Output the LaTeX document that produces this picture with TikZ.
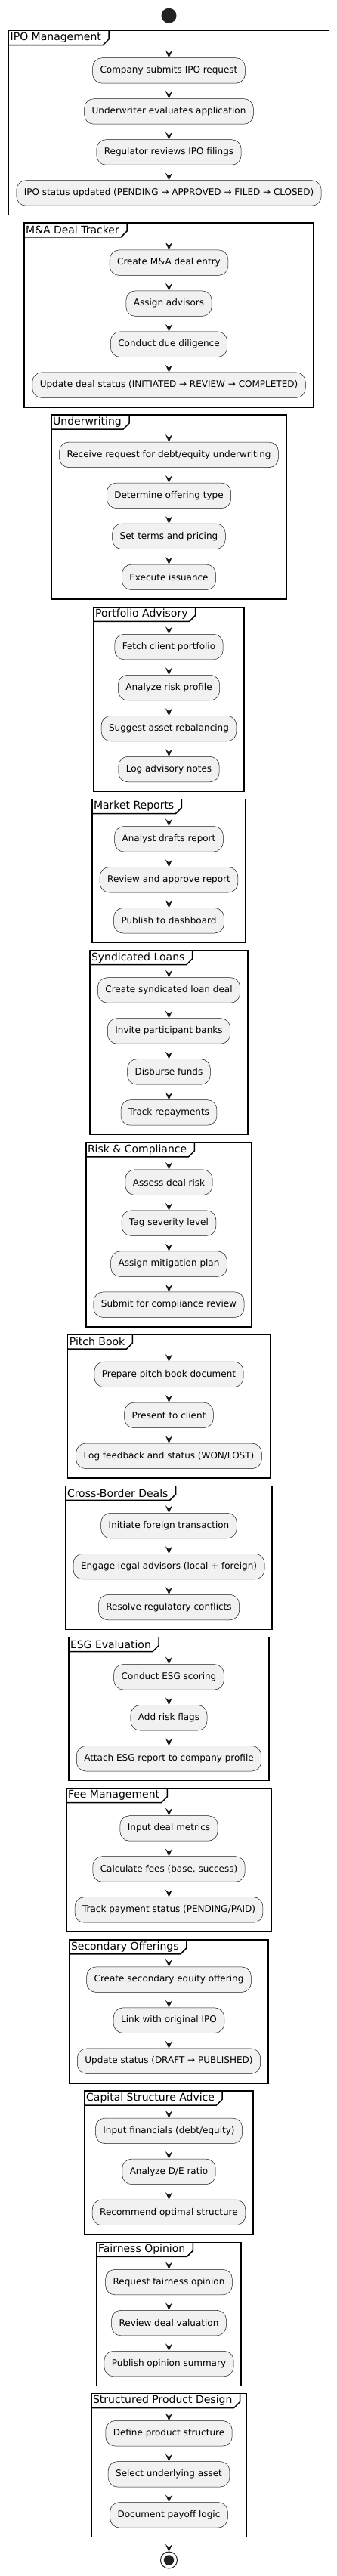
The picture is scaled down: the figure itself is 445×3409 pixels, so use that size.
\documentclass[tikz,border=0pt]{standalone}
\usepackage{fontspec}
\usepackage{xcolor}
\usepackage{tikz}
\usetikzlibrary{positioning}
\usetikzlibrary{calc}
\usetikzlibrary{arrows.meta}
\setmainfont{DejaVu Sans}
\definecolor{boxfill}{HTML}{F1F1F1}
\definecolor{boxline}{HTML}{181818}
\definecolor{dotfill}{HTML}{222222}
\tikzstyle{activity} = [draw=boxline, fill=boxfill, line width=0.5pt,
rectangle, rounded corners=12.5pt, minimum height=33.5pt, inner xsep=10pt,
inner ysep=0pt, outer sep=0pt, font=\fontsize{12}{14}\selectfont]
\tikzstyle{groupframe} = [draw=black, line width=1.5pt]
\tikzstyle{grouptitle} = [anchor=north west, inner xsep=2pt, inner ysep=0pt,
minimum height=18.6pt, font=\fontsize{14}{16}\selectfont]
\tikzstyle{flow} = [draw=boxline, line width=1pt,
-{Stealth[length=10pt,width=9pt,inset=4pt]}]
\tikzstyle{startdot} = [circle, fill=dotfill, minimum size=20pt, inner sep=0pt,
outer sep=0pt]
\tikzstyle{stopdot} = [circle, draw=dotfill, fill=white, line width=1pt,
minimum size=22pt, inner sep=0pt, outer sep=0pt,
path picture={\fill[dotfill] (path picture bounding box.center) circle (6.7pt);}]
% frame with title tab: title, first box, last box, half width
\newcommand{\dealframe}[4]{%
  \draw[groupframe] ($(#2.north)+(-#4pt,36pt)$) coordinate (#2-tl)
    rectangle ($(#3.south)+(#4pt,-12.5pt)$);
  \node[grouptitle] (#2-title) at (#2-tl) {#1};
  \draw[groupframe] (#2-title.south west) -- (#2-title.south east)
    -- ([shift={(8pt,8pt)}]#2-title.south east) -- ([xshift=8pt]#2-title.north east);
}

\begin{document}
\begin{tikzpicture}[node distance=20.5pt]
    \useasboundingbox (0,0) rectangle (445pt,-3409pt);
    \node[startdot] (start) at (223.5pt,-20.7pt) {};

    % IPO Management
    \node[activity, below=46pt of start] (ipo1) {Company submits IPO request};
    \node[activity, below=of ipo1] (ipo2) {Underwriter evaluates application};
    \node[activity, below=of ipo2] (ipo3) {Regulator reviews IPO filings};
    \node[activity, below=of ipo3] (ipo4) {IPO status updated (PENDING → APPROVED → FILED → CLOSED)};

    % M&A Deal Tracker
    \node[activity, below=58.7pt of ipo4] (ma1) {Create M\&A deal entry};
    \node[activity, below=of ma1] (ma2) {Assign advisors};
    \node[activity, below=of ma2] (ma3) {Conduct due diligence};
    \node[activity, below=of ma3] (ma4) {Update deal status (INITIATED → REVIEW → COMPLETED)};

    % Underwriting
    \node[activity, below=58.7pt of ma4] (uw1) {Receive request for debt/equity underwriting};
    \node[activity, below=of uw1] (uw2) {Determine offering type};
    \node[activity, below=of uw2] (uw3) {Set terms and pricing};
    \node[activity, below=of uw3] (uw4) {Execute issuance};

    % Portfolio Advisory
    \node[activity, below=58.7pt of uw4] (pa1) {Fetch client portfolio};
    \node[activity, below=of pa1] (pa2) {Analyze risk profile};
    \node[activity, below=of pa2] (pa3) {Suggest asset rebalancing};
    \node[activity, below=of pa3] (pa4) {Log advisory notes};

    % Market Reports
    \node[activity, below=58.7pt of pa4] (mr1) {Analyst drafts report};
    \node[activity, below=of mr1] (mr2) {Review and approve report};
    \node[activity, below=of mr2] (mr3) {Publish to dashboard};

    % Syndicated Loans
    \node[activity, below=58.7pt of mr3] (sl1) {Create syndicated loan deal};
    \node[activity, below=of sl1] (sl2) {Invite participant banks};
    \node[activity, below=of sl2] (sl3) {Disburse funds};
    \node[activity, below=of sl3] (sl4) {Track repayments};

    % Risk & Compliance
    \node[activity, below=58.7pt of sl4] (rc1) {Assess deal risk};
    \node[activity, below=of rc1] (rc2) {Tag severity level};
    \node[activity, below=of rc2] (rc3) {Assign mitigation plan};
    \node[activity, below=of rc3] (rc4) {Submit for compliance review};

    % Pitch Book
    \node[activity, below=58.7pt of rc4] (pb1) {Prepare pitch book document};
    \node[activity, below=of pb1] (pb2) {Present to client};
    \node[activity, below=of pb2] (pb3) {Log feedback and status (WON/LOST)};

    % Cross-Border Deals
    \node[activity, below=58.7pt of pb3] (cb1) {Initiate foreign transaction};
    \node[activity, below=of cb1] (cb2) {Engage legal advisors (local + foreign)};
    \node[activity, below=of cb2] (cb3) {Resolve regulatory conflicts};

    % ESG Evaluation
    \node[activity, below=58.7pt of cb3] (esg1) {Conduct ESG scoring};
    \node[activity, below=of esg1] (esg2) {Add risk flags};
    \node[activity, below=of esg2] (esg3) {Attach ESG report to company profile};

    % Fee Management
    \node[activity, below=58.7pt of esg3] (fee1) {Input deal metrics};
    \node[activity, below=of fee1] (fee2) {Calculate fees (base, success)};
    \node[activity, below=of fee2] (fee3) {Track payment status (PENDING/PAID)};

    % Secondary Offerings
    \node[activity, below=58.7pt of fee3] (so1) {Create secondary equity offering};
    \node[activity, below=of so1] (so2) {Link with original IPO};
    \node[activity, below=of so2] (so3) {Update status (DRAFT → PUBLISHED)};

    % Capital Structure Advice
    \node[activity, below=58.7pt of so3] (csa1) {Input financials (debt/equity)};
    \node[activity, below=of csa1] (csa2) {Analyze D/E ratio};
    \node[activity, below=of csa2] (csa3) {Recommend optimal structure};

    % Fairness Opinion
    \node[activity, below=58.7pt of csa3] (fo1) {Request fairness opinion};
    \node[activity, below=of fo1] (fo2) {Review deal valuation};
    \node[activity, below=of fo2] (fo3) {Publish opinion summary};

    % Structured Product Design
    \node[activity, below=58.7pt of fo3] (spd1) {Define product structure};
    \node[activity, below=of spd1] (spd2) {Select underlying asset};
    \node[activity, below=of spd2] (spd3) {Document payoff logic};

    \node[stopdot, below=32pt of spd3] (stop) {};

    % frames
    \dealframe{IPO Management}{ipo1}{ipo4}{212}
    \dealframe{M\&A Deal Tracker}{ma1}{ma4}{191.7}
    \dealframe{Underwriting}{uw1}{uw4}{155.5}
    \dealframe{Portfolio Advisory}{pa1}{pa4}{99.5}
    \dealframe{Market Reports}{mr1}{mr3}{101.7}
    \dealframe{Syndicated Loans}{sl1}{sl4}{104.7}
    \dealframe{Risk \& Compliance}{rc1}{rc4}{109.7}
    \dealframe{Pitch Book}{pb1}{pb3}{133.8}
    \dealframe{Cross-Border Deals}{cb1}{cb3}{136.7}
    \dealframe{ESG Evaluation}{esg1}{esg3}{132.7}
    \dealframe{Fee Management}{fee1}{fee3}{135.7}
    \dealframe{Secondary Offerings}{so1}{so3}{131.7}
    \dealframe{Capital Structure Advice}{csa1}{csa3}{111.5}
    \dealframe{Fairness Opinion}{fo1}{fo3}{95.7}
    \dealframe{Structured Product Design}{spd1}{spd3}{102.7}

    % arrows
    \foreach \n [remember=\n as \p (initially start)] in {ipo1,ipo2,ipo3,ipo4,
      ma1,ma2,ma3,ma4,uw1,uw2,uw3,uw4,pa1,pa2,pa3,pa4,mr1,mr2,mr3,
      sl1,sl2,sl3,sl4,rc1,rc2,rc3,rc4,pb1,pb2,pb3,cb1,cb2,cb3,
      esg1,esg2,esg3,fee1,fee2,fee3,so1,so2,so3,csa1,csa2,csa3,
      fo1,fo2,fo3,spd1,spd2,spd3,stop}
      \draw[flow] (\p) -- (\n);
\end{tikzpicture}
\end{document}
